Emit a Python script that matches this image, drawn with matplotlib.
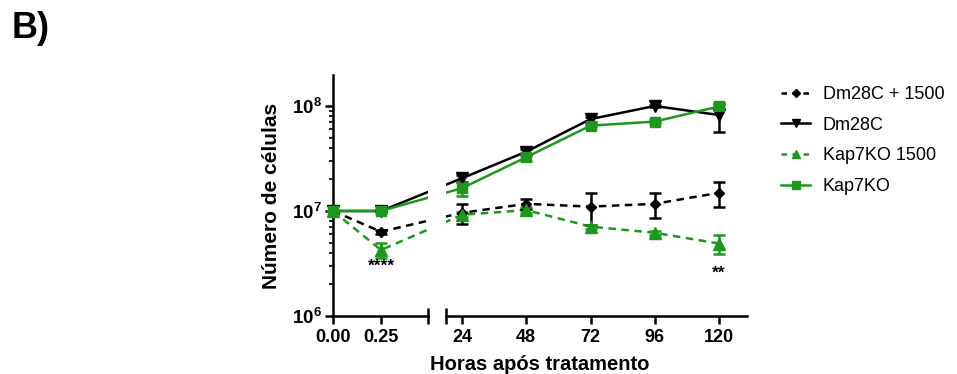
import numpy as np
import matplotlib
matplotlib.use("Agg")
import matplotlib.pyplot as plt
from matplotlib.ticker import LogLocator, FixedLocator, NullFormatter
from matplotlib.lines import Line2D

plt.rcParams['font.family'] = ['Liberation Sans', 'DejaVu Sans']

# data
horas = [0, 0.25, 24, 48, 72, 96, 120]
dm28c_1500 = [1.0e7, 6.35e6, 9.6e6, 1.17e7, 1.1e7, 1.17e7, 1.49e7]
dm28c_1500_sd = [0, 0.3e6, 2.0e6, 1.3e6, 3.7e6, 3.2e6, 4.0e6]
dm28c = [1.0e7, 1.0e7, 2.05e7, 3.67e7, 7.5e7, 1.0e8, 8.2e7]
dm28c_sd = [0, 0, 1.5e6, 2.5e6, 4e6, 3e6, 2.5e7]
kap7ko_1500 = [1.0e7, 4.25e6, 9.2e6, 1.02e7, 7.1e6, 6.2e6, 4.9e6]
kap7ko_1500_sd = [0, 0.7e6, 0.5e6, 0.6e6, 0.3e6, 0.3e6, 1.0e6]
kap7ko = [1.0e7, 1.0e7, 1.65e7, 3.25e7, 6.5e7, 7.1e7, 9.9e7]
kap7ko_sd = [0, 0.4e6, 2.5e6, 2.5e6, 2e6, 2e6, 4e6]

xticks_left = [0, 0.25]
xticklabels_left = ['0.00', '0.25']
xticks_right = [24, 48, 72, 96, 120]
signif = [(0.25, 2.95e6, '****'), (120, 2.55e6, '**')]

GREEN = '#1c981c'

# piecewise x scale (broken axis), units ~ pixels
xp = np.array([-10, 0, 0.25, 24, 120, 300])
fp = np.array([-1920, 0, 48, 129, 386, 386 + 180 * 257 / 96])
fwd = lambda x: np.interp(x, xp, fp)
inv = lambda y: np.interp(y, fp, xp)

fig = plt.figure(figsize=(9.57, 3.74), dpi=100)
W, H = 957, 374
bot, top = 316, 75
axL = fig.add_axes([333 / W, 1 - bot / H, 95 / W, (bot - top) / H])
axR = fig.add_axes([446 / W, 1 - bot / H, 301 / W, (bot - top) / H])

series = [
    (dm28c_1500, dm28c_1500_sd, 'k', '--', 'D', 5, 'Dm28C + 1500'),
    (dm28c, dm28c_sd, 'k', '-', 'v', 8, 'Dm28C'),
    (kap7ko_1500, kap7ko_1500_sd, GREEN, '--', '^', 8, 'Kap7KO 1500'),
    (kap7ko, kap7ko_sd, GREEN, '-', 's', 7, 'Kap7KO'),
]

h = np.array(horas)
for ax, xmin, xmax in [(axL, 0, 95), (axR, 113, 414)]:
    ax.set_xscale('function', functions=(fwd, inv))
    ax.set_yscale('log')
    lo, hi = inv(xmin), inv(xmax)
    for vals, sd, c, ls, mk, ms, lab in series:
        v = np.array(vals)
        ax.plot(h, v, color=c, ls=ls, lw=1.8, dashes=(3, 2.2) if ls == '--' else (None, None))
        m = (h >= lo - 1e-9) & (h <= hi)
        ax.errorbar(h[m], v[m], yerr=np.array(sd)[m], fmt=mk, color=c, ms=ms,
                    capsize=4, elinewidth=1.8, capthick=1.8, clip_on=False, zorder=3)
    ax.set_xlim(lo, hi)
    ax.set_ylim(1e6, 10 ** 8.295)
    for s in ['top', 'right']:
        ax.spines[s].set_visible(False)
    ax.spines['bottom'].set_linewidth(1.8)
    ax.spines['left'].set_linewidth(1.8)
    ax.tick_params(axis='x', width=1.8, length=6, pad=3)
    ax.xaxis.set_minor_locator(FixedLocator([]))

axL.xaxis.set_major_locator(FixedLocator(xticks_left))
axL.set_xticklabels(xticklabels_left, fontweight='bold', fontsize=13)
axR.xaxis.set_major_locator(FixedLocator(xticks_right))
axR.set_xticklabels([str(t) for t in xticks_right], fontweight='bold', fontsize=13)

axL.yaxis.set_major_locator(LogLocator(base=10, numticks=10))
axL.yaxis.set_minor_locator(LogLocator(base=10, subs=np.arange(2, 10), numticks=20))
axL.yaxis.set_minor_formatter(NullFormatter())
axL.tick_params(axis='y', which='major', width=1.8, length=6, labelsize=13.5, pad=2)
axL.tick_params(axis='y', which='minor', width=1.2, length=3)
for t in axL.get_yticklabels():
    t.set_fontweight('bold')

axR.spines['left'].set_visible(False)
axR.tick_params(axis='y', which='both', left=False, labelleft=False)

# break caps
axL.plot([1], [0], transform=axL.transAxes, marker='|', ms=12, mew=1.8, color='k', clip_on=False)
axR.plot([0], [0], transform=axR.transAxes, marker='|', ms=12, mew=1.8, color='k', clip_on=False)

for x, y, s in signif:
    ax = axL if x < 1 else axR
    ax.text(x, y, s, ha='center', va='center', fontsize=12.5, fontweight='bold')

axL.set_ylabel('Número de células', fontsize=15, fontweight='bold', labelpad=8)
fig.text(540 / W, 1 - 364 / H, 'Horas após tratamento', ha='center', va='center',
         fontsize=14.5, fontweight='bold')
fig.text(12 / W, 1 - 29 / H, 'B)', ha='left', va='center', fontsize=26, fontweight='bold')

handles = [Line2D([], [], color=c, ls=ls, marker=mk, ms=ms * 0.75, lw=1.8,
                  dashes=(2.2, 2.2) if ls == '--' else (None, None))
           for _, _, c, ls, mk, ms, _ in series]
labels = [s[-1] for s in series]
fig.legend(handles, labels, loc='upper left', bbox_to_anchor=(765 / W, 1 - 70 / H),
           frameon=False, fontsize=13, handlelength=1.6, labelspacing=0.75, handletextpad=0.7)

fig.savefig('out.png', dpi=100)
